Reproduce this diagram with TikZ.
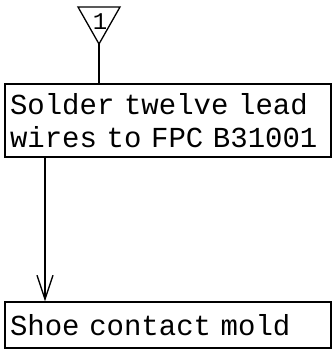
\documentclass[tikz,border=0pt]{standalone}
\usepackage{fontspec}
\setmonofont{Liberation Mono}
\usetikzlibrary{arrows.meta}
\begin{document}
\begin{tikzpicture}[x=1pt,y=-1pt,
  stepbox/.style={draw, line width=1.4pt, rectangle, minimum width=326pt, inner xsep=5pt, text width=316pt, align=left, font=\ttfamily\fontsize{29}{33}\selectfont},
  conn/.style={line width=1.3pt},
  lbl/.style={font=\ttfamily\fontsize{24}{24}\selectfont, inner sep=0pt}]
\useasboundingbox (0,0) rectangle (333,352);
\draw[conn] (78,7) -- (120,7) -- (99,44) -- cycle;
\node[lbl] (one) at (100,22) {1};
\coordinate (apex) at (99,44);
\node[stepbox, minimum height=73pt] (s1) at (168,120.5) {Solder twelve lead\\wires to FPC B31001};
\node[stepbox, minimum height=46pt] (s2) at (168,325) {Shoe contact mold};
\draw[conn] (apex) -- (apex |- s1.north);
\draw[conn, -{Straight Barb[length=24pt,width=16pt]}] (s1.south -| 45,0) -- (s2.north -| 45,0);
\end{tikzpicture}
\end{document}
